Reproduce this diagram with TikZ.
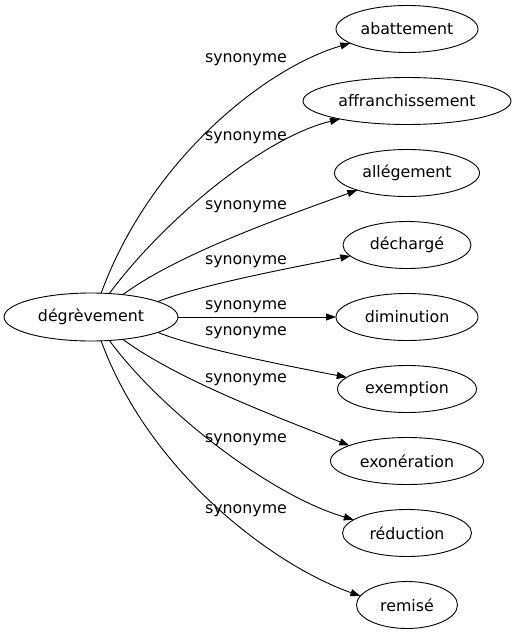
\documentclass[tikz,border=0pt]{standalone}
\usepackage{fontspec}
\setmainfont{DejaVu Sans}
\usetikzlibrary{shapes.geometric,arrows.meta}
\tikzset{
  word/.style={draw, ellipse, line width=0.9pt, inner sep=0pt, outer sep=0pt,
    minimum height=47pt, font=\fontsize{15.8}{19}\selectfont},
  rel/.style={line width=0.9pt, -{Triangle[length=10pt,width=7pt]}},
  lbl/.style={inner sep=0pt, font=\fontsize{15.8}{19}\selectfont}
}
\begin{document}
\begin{tikzpicture}[x=1pt,y=-1pt]
\useasboundingbox (0,0) rectangle (515,635);
\node[word, minimum width=174pt, minimum height=48pt] (src) at (91,317) {dégrèvement};
\node[word, minimum width=142pt] (t1) at (407,29) {abattement};
\node[word, minimum width=208pt] (t2) at (407,101) {affranchissement};
\node[word, minimum width=145pt] (t3) at (407,173) {allégement};
\node[word, minimum width=128pt] (t4) at (407,245) {déchargé};
\node[word, minimum width=142pt] (t5) at (407,317) {diminution};
\node[word, minimum width=139pt] (t6) at (407,389) {exemption};
\node[word, minimum width=153pt] (t7) at (407,461) {exonération};
\node[word, minimum width=129pt] (t8) at (407,533) {réduction};
\node[word, minimum width=101pt] (t9) at (407,605) {remisé};

\draw[rel] (src.67) .. controls (150,160) and (265,68) .. (t1.194);
\draw[rel] (src.52.5) .. controls (163,221) and (262,138) .. (t2.195);
\draw[rel] (src.35) .. controls (179,253) and (289,215) .. (t3.199);
\draw[rel] (src.13.3) .. controls (200,285) and (290,268) .. (t4.191);
\draw[rel] (src.east) -- (t5.west);
\draw[rel] (src.-13.3) .. controls (200,349) and (288,366) .. (t6.169);
\draw[rel] (src.-35) .. controls (179,381) and (285,420) .. (t7.165.7);
\draw[rel] (src.-52.5) .. controls (163,413) and (272,496) .. (t8.166);
\draw[rel] (src.-67) .. controls (150,474) and (275,566) .. (t9.169);

\node[lbl] (l1) at (246,60) {synonyme};
\node[lbl] (l2) at (246,138) {synonyme};
\node[lbl] (l3) at (246,207) {synonyme};
\node[lbl] (l4) at (246,262) {synonyme};
\node[lbl] (l5) at (246,307) {synonyme};
\node[lbl] (l6) at (246,333) {synonyme};
\node[lbl] (l7) at (246,380) {synonyme};
\node[lbl] (l8) at (246,440) {synonyme};
\node[lbl] (l9) at (246,511) {synonyme};
\end{tikzpicture}
\end{document}
